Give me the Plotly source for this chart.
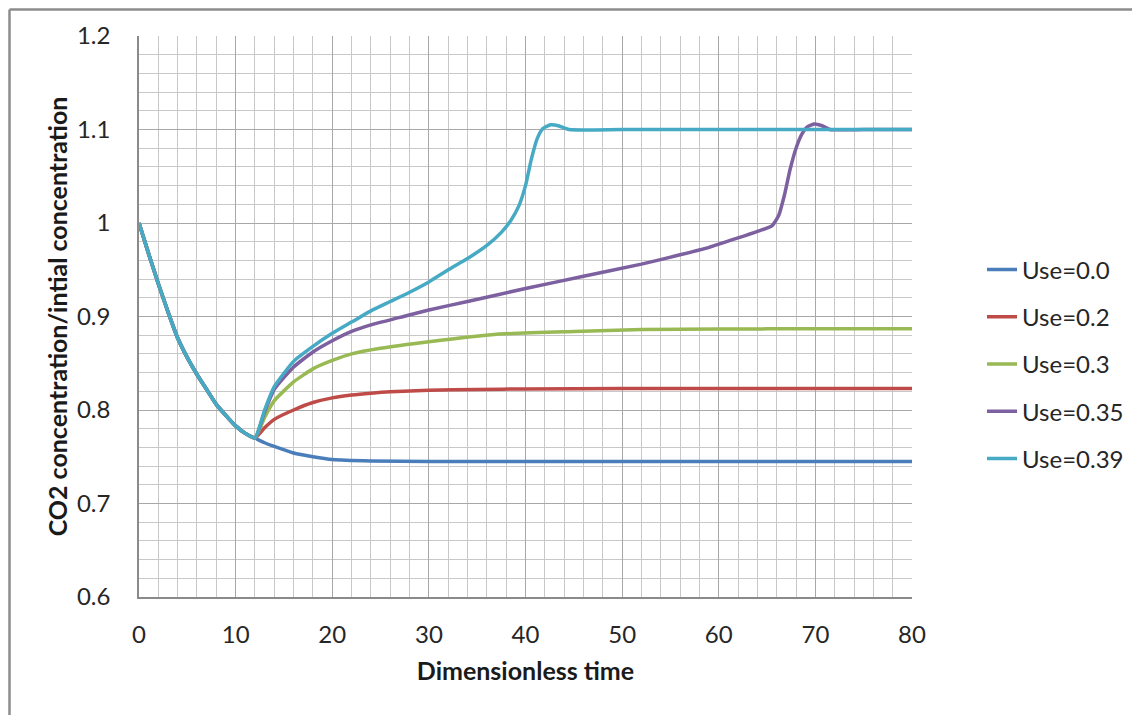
import plotly.graph_objects as go

# ---- data ----
decline_x = [0, 1, 2, 3, 4, 5, 6, 7, 8, 9, 10, 11, 12]
decline_y = [1.0, 0.967, 0.935, 0.905, 0.877, 0.856, 0.838, 0.822, 0.806, 0.794, 0.783, 0.775, 0.77]

use00_x = [13, 14, 16, 18, 20, 24, 30, 40, 50, 60, 70, 80]
use00_y = [0.765, 0.761, 0.754, 0.750, 0.747, 0.7455, 0.745, 0.745, 0.745, 0.745, 0.745, 0.745]

use02_x = [13, 14, 16, 18, 20, 22, 24, 26, 30, 35, 40, 50, 60, 70, 80]
use02_y = [0.781, 0.790, 0.800, 0.808, 0.813, 0.816, 0.818, 0.8195, 0.821, 0.822, 0.8225, 0.823, 0.823, 0.823, 0.823]

use03_x = [13, 14, 16, 18, 20, 22, 25, 30, 37, 45, 52, 60, 70, 80]
use03_y = [0.792, 0.810, 0.830, 0.844, 0.853, 0.860, 0.866, 0.873, 0.881, 0.884, 0.886, 0.8865, 0.887, 0.887]

use035_x = [13, 14, 16, 18, 20, 22, 24, 27, 30, 34, 40, 46, 52, 56, 59, 62, 64, 65.5, 66.2, 66.8, 67.4, 68.0, 68.6, 69.2, 69.9, 70.7, 71.5, 75, 80]
use035_y = [0.798, 0.822, 0.846, 0.862, 0.874, 0.884, 0.891, 0.899, 0.907, 0.916, 0.930, 0.943, 0.956, 0.966, 0.974, 0.984, 0.991, 0.997, 1.008, 1.030, 1.058, 1.080, 1.095, 1.103, 1.106, 1.104, 1.100, 1.100, 1.100]

use039_x = [13, 14, 16, 18, 20, 22, 24, 26, 28, 30, 32, 34, 36, 37.5, 38.5, 39.3, 40.0, 40.6, 41.2, 41.8, 42.6, 43.4, 44.5, 50, 60, 70, 80]
use039_y = [0.800, 0.825, 0.852, 0.868, 0.882, 0.894, 0.906, 0.916, 0.926, 0.937, 0.950, 0.962, 0.976, 0.990, 1.003, 1.018, 1.040, 1.068, 1.090, 1.101, 1.105, 1.104, 1.100, 1.100, 1.100, 1.100, 1.100]

names = ["Use=0.0", "Use=0.2", "Use=0.3", "Use=0.35", "Use=0.39"]
colors = ["#4A7EBB", "#BE4B48", "#98B954", "#7D60A0", "#46AAC5"]
tails_x = [use00_x, use02_x, use03_x, use035_x, use039_x]
tails_y = [use00_y, use02_y, use03_y, use035_y, use039_y]

fig = go.Figure()
for n, c, tx, ty in zip(names, colors, tails_x, tails_y):
    fig.add_trace(go.Scatter(
        x=decline_x + tx, y=decline_y + ty, name=n, mode="lines",
        line=dict(color=c, width=3.5, shape="spline", smoothing=0.5),
        legendgroup=n,
    ))

FONT = "Lato, 'Liberation Sans', sans-serif"
OFF = 8  # page body margin
W, H = 1140, 715
L, R, T, B = 139 - OFF, 228 + OFF, 36 - OFF, 118 + OFF
pw, ph = W - L - R, H - T - B

def px_x(p):
    return (p - OFF - L) / pw

def px_y(p):
    return (H - B - (p - OFF)) / ph

fig.update_layout(
    width=W, height=H,
    margin=dict(l=L, r=R, t=T, b=B, autoexpand=False),
    paper_bgcolor="white", plot_bgcolor="white",
    font=dict(family=FONT, size=23, color="#262626"),
    showlegend=True,
    legend=dict(x=px_x(982), y=px_y(364), xanchor="left", yanchor="middle",
                font=dict(size=24, color="#262626"), tracegroupgap=13,
                traceorder="grouped", bgcolor="rgba(0,0,0,0)", itemwidth=30),
    xaxis=dict(
        range=[0, 80], dtick=10, tick0=0,
        showgrid=True, gridcolor="#a8a8a8", gridwidth=1,
        minor=dict(dtick=2, showgrid=True, gridcolor="#c8c8c8", gridwidth=1),
        showline=True, linecolor="#8a8a8a", linewidth=1.5,
        zeroline=False, ticks="", ticklabelstandoff=15,
        tickfont=dict(size=24, color="#262626"),
        title=dict(text="<b>Dimensionless time</b>", font=dict(size=25, color="#1a1a1a"), standoff=16),
        automargin=False,
    ),
    yaxis=dict(
        range=[0.6, 1.2], dtick=0.1, tick0=0.6,
        showgrid=True, gridcolor="#a8a8a8", gridwidth=1,
        minor=dict(dtick=0.02, showgrid=True, gridcolor="#c8c8c8", gridwidth=1),
        showline=True, linecolor="#8a8a8a", linewidth=1.5,
        zeroline=False, ticks="", ticklabelstandoff=22,
        tickfont=dict(size=24, color="#262626"),
        tickformat="~g",
        title=dict(text="<b>CO2 concentration/intial concentration</b>", font=dict(size=25, color="#1a1a1a"), standoff=2),
        automargin=False,
    ),
    shapes=[
        dict(type="line", xref="paper", yref="paper", x0=px_x(9.5), x1=px_x(1160), y0=px_y(9.5), y1=px_y(9.5),
             line=dict(color="#8c8c8c", width=2.5)),
        dict(type="line", xref="paper", yref="paper", x0=px_x(9.5), x1=px_x(9.5), y0=px_y(9.5), y1=px_y(740),
             line=dict(color="#8c8c8c", width=2.5)),
    ],
)

fig.write_html("out.html")
